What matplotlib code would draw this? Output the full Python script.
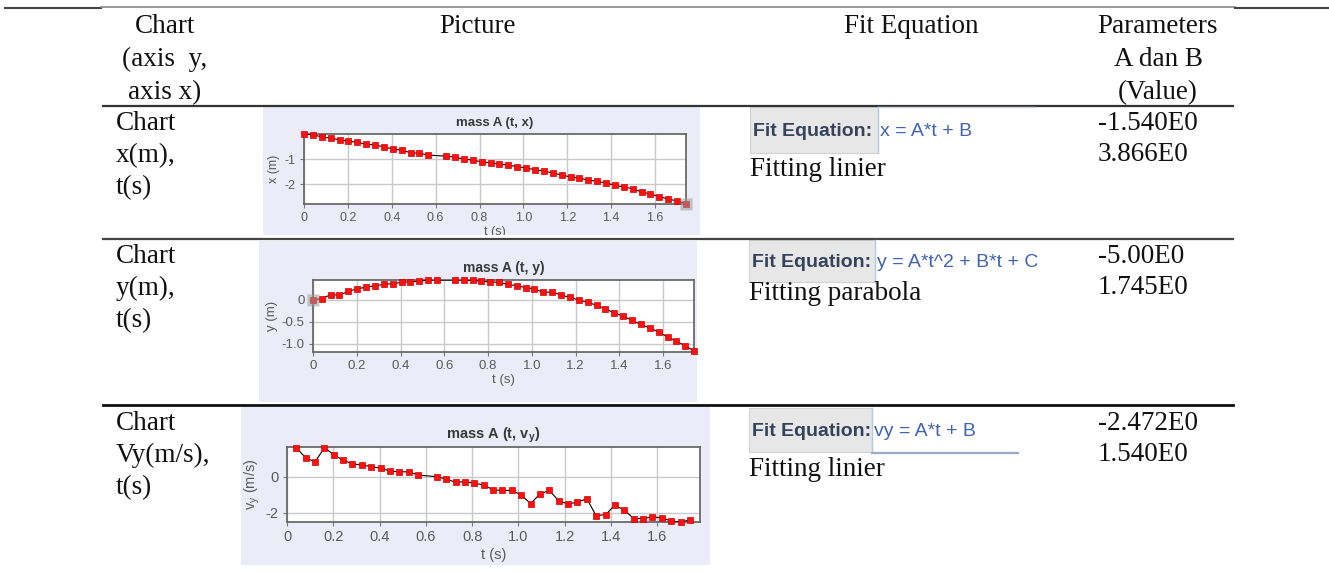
from matplotlib import pyplot as plt
from matplotlib.patches import Rectangle
from matplotlib.lines import Line2D
from matplotlib.transforms import Bbox, TransformedBbox

W, H = 1329, 584

# time stamps of the tracked frames (frame at ~0.607 s is missing)
t = [0.000, 0.040, 0.081, 0.121, 0.162, 0.202, 0.243, 0.283, 0.324, 0.364,
     0.405, 0.445, 0.486, 0.526, 0.567, 0.648, 0.688, 0.729, 0.769, 0.810,
     0.850, 0.891, 0.931, 0.972, 1.012, 1.053, 1.093, 1.134, 1.174, 1.215,
     1.255, 1.296, 1.336, 1.377, 1.417, 1.458, 1.498, 1.539, 1.579, 1.620,
     1.660, 1.701, 1.741]

x_m = [0.00, -0.04, -0.11, -0.17, -0.23, -0.29, -0.33, -0.41, -0.44, -0.51,
       -0.60, -0.65, -0.75, -0.77, -0.84, -0.89, -0.93, -1.00, -1.05, -1.11,
       -1.16, -1.20, -1.25, -1.30, -1.36, -1.43, -1.48, -1.56, -1.64, -1.72,
       -1.76, -1.85, -1.89, -1.96, -2.05, -2.12, -2.19, -2.32, -2.40, -2.51,
       -2.60, -2.68, -2.78]

y_m = [0.00, 0.02, 0.11, 0.10, 0.19, 0.24, 0.28, 0.31, 0.34, 0.36,
       0.385, 0.40, 0.41, 0.44, 0.44, 0.44, 0.44, 0.43, 0.41, 0.40,
       0.385, 0.34, 0.31, 0.27, 0.24, 0.16, 0.17, 0.10, 0.05, -0.01,
       -0.06, -0.13, -0.21, -0.30, -0.37, -0.47, -0.56, -0.64, -0.73, -0.84,
       -0.94, -1.04, -1.16]

t_v = t[1:]
vy = [1.60, 1.04, 0.82, 1.60, 1.22, 0.91, 0.71, 0.64, 0.56, 0.47,
      0.31, 0.27, 0.27, 0.09, 0.00, -0.13, -0.31, -0.27, -0.36, -0.45,
      -0.73, -0.75, -0.76, -1.00, -1.49, -0.95, -0.76, -1.33, -1.51, -1.40,
      -1.22, -2.15, -2.09, -1.58, -1.84, -2.31, -2.31, -2.22, -2.27, -2.45,
      -2.51, -2.38]

xticks = [0, 0.2, 0.4, 0.6, 0.8, 1.0, 1.2, 1.4, 1.6]
xticklabels = ['0', '0.2', '0.4', '0.6', '0.8', '1.0', '1.2', '1.4', '1.6']

header_col1 = ['Chart', '(axis  y,', 'axis x)']
header_col4 = ['Parameters', 'A dan B', '(Value)']
row_names = [['Chart', 'x(m),', 't(s)'],
             ['Chart', 'y(m),', 't(s)'],
             ['Chart', 'Vy(m/s),', 't(s)']]
equations = ['x = A*t + B', 'y = A*t^2 + B*t + C', 'vy = A*t + B']
fit_names = ['Fitting linier', 'Fitting parabola', 'Fitting linier']
params = [['-1.540E0', '3.866E0'],
          ['-5.00E0', '1.745E0'],
          ['-2.472E0', '1.540E0']]

fig = plt.figure(figsize=(W / 100, H / 100), dpi=100)
fig.patch.set_facecolor('white')

SERIF = 'Liberation Serif'
SANS = 'Liberation Sans'
FS = 19.5


def fx(x):
    return x / W


def fy(y):
    return 1 - y / H


def txt(x, y, s, **kw):
    kw.setdefault('family', SERIF)
    kw.setdefault('size', FS)
    kw.setdefault('va', 'baseline')
    kw.setdefault('color', '#111111')
    return fig.text(fx(x), fy(y), s, **kw)


def hline(x0, x1, y, color='#333333', lw=1.5):
    fig.add_artist(Line2D([fx(x0), fx(x1)], [fy(y), fy(y)], color=color, lw=lw,
                          transform=fig.transFigure))


def vline(x, y0, y1, color='#333333', lw=1.0):
    fig.add_artist(Line2D([fx(x), fx(x)], [fy(y0), fy(y1)], color=color, lw=lw,
                          transform=fig.transFigure))


def box(x0, y0, x1, y1, fc, ec='none', lw=0.0, z=0):
    r = Rectangle((fx(x0), fy(y1)), (x1 - x0) / W, (y1 - y0) / H, facecolor=fc,
                  edgecolor=ec, lw=lw, transform=fig.transFigure, zorder=z)
    fig.add_artist(r)
    return r


# table rules
hline(5, 101, 8, color='#444444', lw=1.5)
hline(101, 1235, 7, color='#888888', lw=1.2)
hline(1235, 1329, 8, color='#444444', lw=1.5)
hline(103, 1233, 106, color='#333333', lw=1.6)
hline(103, 1233, 239, color='#444444', lw=1.6)
hline(103, 1233, 405, color='#111111', lw=2.0)

# header
for i, s in enumerate(header_col1):
    txt(165, 33 + 33 * i, s, ha='center')
txt(478, 33, 'Picture', ha='center')
txt(911, 33, 'Fit Equation', ha='center')
for i, s in enumerate(header_col4):
    txt(1158, 33 + 33 * i, s, ha='center')

# first column and parameter column
row_base = [130, 263, 430]
for r in range(3):
    for i, s in enumerate(row_names[r]):
        txt(116, row_base[r] + 32 * i, s, ha='left')
    for i, s in enumerate(params[r]):
        txt(1098, row_base[r] + 31 * i, s, ha='left')

# fit equation widgets
eq_boxes = [(750, 107, 878, 153), (749, 240, 875, 282), (749, 408, 872, 452)]
fit_base = [176, 300, 476]
for r in range(3):
    x0, y0, x1, y1 = eq_boxes[r]
    box(x0, y0, x1, y1, fc='#E7E7E7', ec='#D2D2D2', lw=0.8)
    vline(x1, y0, y1, color='#B8C8E0', lw=1.0)
    ymid = (y0 + y1) / 2 + 6
    txt(x0 + 3, ymid, 'Fit Equation:', family=SANS, size=14, weight='bold',
        color='#34425A')
    txt(x1 + 2, ymid, equations[r], family=SANS, size=14, color='#3F63B5')
    txt(x0, fit_base[r], fit_names[r])
hline(878, 1035, 107, color='#C8D2E4', lw=1.0)
hline(872, 1018, 453, color='#9AAAC8', lw=1.6)


def mini_chart(panel, rect, xs, ys, title, ylabel, xlim, ylim, yticks, ytl,
               fs_tick, fs_title, xlpad, hl=None):
    px0, py0, px1, py1 = panel
    box(px0, py0, px1, py1, fc='#ECECF9', z=-1)
    l, tp, r, b = rect
    ax = fig.add_axes([fx(l), fy(b), (r - l) / W, (b - tp) / H])
    ax.set_facecolor('white')
    ax.plot(xs, ys, color='black', lw=0.8, zorder=3)
    ax.plot(xs, ys, ls='none', marker='s', ms=4.4, mfc='#FF1010', mec='#D00000',
            mew=0.5, zorder=4, clip_on=False)
    if hl is not None:
        ax.plot([xs[hl]], [ys[hl]], ls='none', marker='s', ms=8, mfc='#9A9A9A',
                mec='none', alpha=0.55, zorder=5, clip_on=False)
    ax.set_xlim(*xlim)
    ax.set_ylim(*ylim)
    ax.set_xticks(xticks)
    ax.set_xticklabels(xticklabels)
    ax.set_yticks(yticks)
    ax.set_yticklabels(ytl)
    ax.grid(True, color='#C9C9C9', lw=1.0)
    ax.set_axisbelow(True)
    for sp in ax.spines.values():
        sp.set_color('#6A6A6A')
        sp.set_linewidth(1.3)
    ax.tick_params(length=3, width=0.8, color='#777777', labelcolor='#5A5A5A',
                   labelsize=fs_tick, pad=3)
    for lab in ax.get_xticklabels() + ax.get_yticklabels():
        lab.set_family(SANS)
    ax.set_title(title, family=SANS, size=fs_title, weight='bold', color='#3A3A3A',
                 pad=6)
    ax.set_ylabel(ylabel, family=SANS, size=fs_tick, color='#5A5A5A', labelpad=3)
    xl = ax.set_xlabel('t (s)', family=SANS, size=fs_tick, color='#5A5A5A',
                       labelpad=xlpad)
    clip = TransformedBbox(Bbox.from_extents(fx(px0), fy(py1), fx(px1), fy(py0)),
                           fig.transFigure)
    xl.set_clip_box(clip)
    xl.set_clip_on(True)
    return ax


mini_chart((263, 107, 700, 235), (304, 134, 686, 204), t, x_m,
           'mass A (t, x)', 'x (m)', (0, 1.741), (-2.8, 0.0),
           [-2, -1], ['-2', '-1'], 9, 9.5, 1, hl=len(t) - 1)
mini_chart((259, 241, 697, 402), (313, 280, 694, 352), t, y_m,
           'mass A (t, y)', 'y (m)', (0, 1.741), (-1.18, 0.44),
           [-1.0, -0.5, 0], ['-1.0', '-0.5', '0'], 9.5, 10, 1, hl=0)
mini_chart((241, 407, 710, 565), (287, 447, 700, 522), t_v, vy,
           r'mass A (t, v$_\mathregular{y}$)', r'v$_\mathregular{y}$ (m/s)',
           (0, 1.785), (-2.5, 1.64), [-2, 0], ['-2', '0'], 10.5, 10.5, 3)

fig.savefig('out.png', dpi=100, facecolor='white')
